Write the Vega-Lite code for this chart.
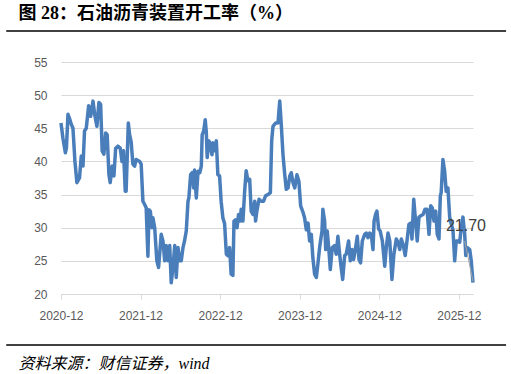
{
  "$schema": "https://vega.github.io/schema/vega-lite/v6.json",
  "padding": {"left": 5, "right": 5, "top": 4, "bottom": 2},
  "spacing": 14,
  "center": true,
  "background": "#ffffff",
  "config": {"font": "Liberation Sans"},
  "vconcat": [
    {
      "width": 534,
      "height": 10,
      "view": {"fill": "#ffffff", "stroke": "#ffffff"},
      "title": {"text": "图 28：石油沥青装置开工率（%）", "anchor": "start", "dx": 13, "offset": 7, "font": "Liberation Serif, Noto Sans CJK SC", "fontSize": 18, "fontWeight": "bold", "color": "#000000"},
      "data": {"values": [{"x": 0, "x2": 0.936, "y": 1}]},
      "mark": {"type": "rule", "color": "#000000", "strokeWidth": 1.5},
      "encoding": {
        "x": {"field": "x", "type": "quantitative", "scale": {"domain": [0, 1]}, "axis": null},
        "x2": {"field": "x2"},
        "y": {"field": "y", "type": "quantitative", "scale": {"domain": [0, 1]}, "axis": null}
      }
    },
    {
      "width": 412,
      "height": 232,
      "view": {"stroke": null},
      "encoding": {
        "x": {
          "field": "d", "type": "temporal",
          "scale": {"domain": ["2020-12-01", "2026-02-04"], "nice": false},
          "axis": {
            "values": [{"year": 2020, "month": 12, "date": 1}, {"year": 2021, "month": 12, "date": 1}, {"year": 2022, "month": 12, "date": 1}, {"year": 2023, "month": 12, "date": 1}, {"year": 2024, "month": 12, "date": 1}, {"year": 2025, "month": 12, "date": 1}],
            "format": "%Y-%m", "title": null, "grid": false,
            "domainColor": "#d9d9d9", "domainWidth": 1,
            "tickColor": "#d9d9d9", "tickSize": 5, "tickWidth": 1,
            "labelFont": "Liberation Sans", "labelFontSize": 12, "labelColor": "#595959", "labelPadding": 11, "labelFlush": false
          }
        },
        "y": {
          "field": "v", "type": "quantitative",
          "scale": {"domain": [20, 55], "nice": false, "zero": false},
          "axis": {
            "values": [20, 25, 30, 35, 40, 45, 50, 55],
            "labelOverlap": false,
            "title": "%", "titleColor": "rgba(0,0,0,0)", "titleFontSize": 10, "titlePadding": 16,
            "grid": true, "gridColor": "#d9d9d9", "gridWidth": 1,
            "domain": false, "ticks": false, "tickSize": 0,
            "labelFont": "Liberation Sans", "labelFontSize": 12, "labelColor": "#595959", "labelPadding": 14
          }
        }
      },
      "layer": [
        {
          "data": {"values": [
{"d":"2020-12-01","v":45.8},{"d":"2020-12-10","v":43.5},{"d":"2020-12-21","v":41.3},{"d":"2020-12-26","v":42},{"d":"2021-01-02","v":47.1},{"d":"2021-01-09","v":46.5},{"d":"2021-01-17","v":45.6},{"d":"2021-01-25","v":45},{"d":"2021-02-03","v":40},{"d":"2021-02-12","v":36.8},{"d":"2021-02-19","v":37.2},{"d":"2021-02-24","v":37.5},{"d":"2021-03-04","v":40.8},{"d":"2021-03-12","v":39.3},{"d":"2021-03-19","v":44.6},{"d":"2021-03-27","v":45},{"d":"2021-04-07","v":48.4},{"d":"2021-04-16","v":46.8},{"d":"2021-04-27","v":49.1},{"d":"2021-05-05","v":47},{"d":"2021-05-15","v":45.3},{"d":"2021-05-24","v":48.9},{"d":"2021-06-01","v":48.6},{"d":"2021-06-08","v":41.6},{"d":"2021-06-16","v":41.1},{"d":"2021-06-24","v":44.3},{"d":"2021-07-01","v":44},{"d":"2021-07-09","v":38},{"d":"2021-07-15","v":36.8},{"d":"2021-07-24","v":39.3},{"d":"2021-08-01","v":37.8},{"d":"2021-08-09","v":42},{"d":"2021-08-19","v":42.3},{"d":"2021-08-30","v":42},{"d":"2021-09-07","v":40},{"d":"2021-09-14","v":41.6},{"d":"2021-09-22","v":35.5},{"d":"2021-09-26","v":35.5},{"d":"2021-10-06","v":45.8},{"d":"2021-10-12","v":44},{"d":"2021-10-19","v":43},{"d":"2021-10-27","v":39.6},{"d":"2021-11-04","v":39.3},{"d":"2021-11-11","v":40.3},{"d":"2021-11-27","v":40},{"d":"2021-12-04","v":39.6},{"d":"2021-12-12","v":34},{"d":"2021-12-20","v":33.5},{"d":"2021-12-27","v":33},{"d":"2022-01-04","v":25.7},{"d":"2022-01-09","v":32.7},{"d":"2022-01-15","v":32.5},{"d":"2022-01-23","v":30},{"d":"2022-01-27","v":31.5},{"d":"2022-02-04","v":30},{"d":"2022-02-14","v":25},{"d":"2022-02-22","v":24},{"d":"2022-03-06","v":29},{"d":"2022-03-14","v":28},{"d":"2022-03-22","v":25},{"d":"2022-03-29","v":27.3},{"d":"2022-04-06","v":25},{"d":"2022-04-14","v":27.3},{"d":"2022-04-21","v":21.7},{"d":"2022-04-29","v":24},{"d":"2022-05-07","v":27.3},{"d":"2022-05-14","v":22.5},{"d":"2022-05-22","v":27},{"d":"2022-05-30","v":25},{"d":"2022-06-06","v":25},{"d":"2022-06-14","v":27},{"d":"2022-06-21","v":28},{"d":"2022-06-29","v":29.5},{"d":"2022-07-07","v":34},{"d":"2022-07-11","v":34.5},{"d":"2022-07-19","v":38},{"d":"2022-07-26","v":38.3},{"d":"2022-08-02","v":36},{"d":"2022-08-06","v":38.7},{"d":"2022-08-14","v":34.5},{"d":"2022-08-22","v":38.5},{"d":"2022-08-30","v":38.3},{"d":"2022-09-06","v":39.3},{"d":"2022-09-10","v":44},{"d":"2022-09-17","v":44.6},{"d":"2022-09-24","v":46.3},{"d":"2022-09-29","v":44.4},{"d":"2022-10-03","v":40.6},{"d":"2022-10-11","v":43.1},{"d":"2022-10-17","v":42.6},{"d":"2022-10-25","v":41},{"d":"2022-10-29","v":42.8},{"d":"2022-11-06","v":41.6},{"d":"2022-11-14","v":43.1},{"d":"2022-11-21","v":38},{"d":"2022-11-29","v":37.8},{"d":"2022-12-06","v":34},{"d":"2022-12-14","v":31.5},{"d":"2022-12-22","v":30.6},{"d":"2022-12-30","v":26},{"d":"2023-01-06","v":25.8},{"d":"2023-01-14","v":27},{"d":"2023-01-21","v":23},{"d":"2023-01-29","v":22.8},{"d":"2023-02-03","v":31},{"d":"2023-02-11","v":31.2},{"d":"2023-02-17","v":30},{"d":"2023-02-24","v":32},{"d":"2023-03-04","v":31},{"d":"2023-03-08","v":32.8},{"d":"2023-03-16","v":31},{"d":"2023-03-24","v":35.5},{"d":"2023-03-31","v":38.6},{"d":"2023-04-08","v":37.1},{"d":"2023-04-16","v":37.3},{"d":"2023-04-23","v":32.5},{"d":"2023-05-01","v":32},{"d":"2023-05-09","v":34},{"d":"2023-05-13","v":31},{"d":"2023-05-19","v":32.5},{"d":"2023-05-29","v":34.3},{"d":"2023-06-08","v":34},{"d":"2023-06-19","v":34},{"d":"2023-06-28","v":34.8},{"d":"2023-07-09","v":35},{"d":"2023-07-20","v":35.3},{"d":"2023-07-26","v":43.1},{"d":"2023-08-01","v":45.3},{"d":"2023-08-13","v":45.8},{"d":"2023-08-24","v":45.8},{"d":"2023-09-01","v":49.1},{"d":"2023-09-08","v":45.6},{"d":"2023-09-16","v":41},{"d":"2023-09-24","v":38},{"d":"2023-10-01","v":35.8},{"d":"2023-10-09","v":36},{"d":"2023-10-17","v":37.8},{"d":"2023-10-24","v":38.3},{"d":"2023-11-01","v":36.8},{"d":"2023-11-09","v":36},{"d":"2023-11-19","v":38},{"d":"2023-11-28","v":37},{"d":"2023-12-06","v":33.3},{"d":"2023-12-17","v":32.3},{"d":"2023-12-24","v":31.5},{"d":"2024-01-01","v":29.7},{"d":"2024-01-09","v":30.7},{"d":"2024-01-16","v":28},{"d":"2024-01-24","v":29},{"d":"2024-01-31","v":25.5},{"d":"2024-02-08","v":23},{"d":"2024-02-16","v":22.5},{"d":"2024-02-23","v":24.5},{"d":"2024-03-02","v":27},{"d":"2024-03-13","v":29.5},{"d":"2024-03-17","v":32.8},{"d":"2024-03-25","v":31},{"d":"2024-03-30","v":26.7},{"d":"2024-04-06","v":29.5},{"d":"2024-04-14","v":26.5},{"d":"2024-04-20","v":23.7},{"d":"2024-04-29","v":27},{"d":"2024-05-10","v":27.3},{"d":"2024-05-17","v":26},{"d":"2024-05-25","v":28.7},{"d":"2024-06-02","v":26},{"d":"2024-06-09","v":24},{"d":"2024-06-16","v":22.2},{"d":"2024-06-25","v":25.8},{"d":"2024-07-02","v":26},{"d":"2024-07-13","v":28},{"d":"2024-07-21","v":25},{"d":"2024-07-29","v":26.7},{"d":"2024-08-05","v":25.2},{"d":"2024-08-13","v":26.7},{"d":"2024-08-22","v":28.7},{"d":"2024-08-30","v":25.2},{"d":"2024-09-06","v":24.7},{"d":"2024-09-14","v":28},{"d":"2024-09-25","v":29},{"d":"2024-10-02","v":29.2},{"d":"2024-10-10","v":28.5},{"d":"2024-10-18","v":29.2},{"d":"2024-10-25","v":29},{"d":"2024-11-02","v":26.7},{"d":"2024-11-07","v":31},{"d":"2024-11-14","v":32},{"d":"2024-11-20","v":32.5},{"d":"2024-11-28","v":29.8},{"d":"2024-12-05","v":29.5},{"d":"2024-12-15","v":28},{"d":"2024-12-26","v":24.2},{"d":"2025-01-02","v":27},{"d":"2025-01-10","v":29.2},{"d":"2025-01-18","v":28},{"d":"2025-01-28","v":22.2},{"d":"2025-02-06","v":26},{"d":"2025-02-17","v":28.3},{"d":"2025-02-25","v":27.8},{"d":"2025-03-05","v":26.7},{"d":"2025-03-12","v":28.3},{"d":"2025-03-20","v":27.5},{"d":"2025-03-30","v":25.8},{"d":"2025-04-07","v":28},{"d":"2025-04-16","v":30.5},{"d":"2025-04-24","v":30.7},{"d":"2025-04-30","v":28.3},{"d":"2025-05-08","v":34.3},{"d":"2025-05-15","v":31.6},{"d":"2025-05-24","v":28},{"d":"2025-06-01","v":31.6},{"d":"2025-06-09","v":31.8},{"d":"2025-06-20","v":32},{"d":"2025-06-29","v":32.8},{"d":"2025-07-08","v":32.8},{"d":"2025-07-17","v":29},{"d":"2025-07-25","v":33.3},{"d":"2025-08-01","v":33},{"d":"2025-08-09","v":31},{"d":"2025-08-17","v":32.5},{"d":"2025-08-24","v":29},{"d":"2025-09-01","v":28.3},{"d":"2025-09-07","v":34.8},{"d":"2025-09-11","v":35.3},{"d":"2025-09-19","v":40.3},{"d":"2025-09-27","v":38.5},{"d":"2025-10-04","v":35.5},{"d":"2025-10-12","v":36},{"d":"2025-10-20","v":31.6},{"d":"2025-10-27","v":30.6},{"d":"2025-11-04","v":29.7},{"d":"2025-11-12","v":25},{"d":"2025-11-19","v":28},{"d":"2025-11-27","v":28},{"d":"2025-12-05","v":27.8},{"d":"2025-12-12","v":30},{"d":"2025-12-20","v":31.6},{"d":"2025-12-28","v":29},{"d":"2026-01-02","v":25.8},{"d":"2026-01-09","v":27},{"d":"2026-01-20","v":26.7},{"d":"2026-01-27","v":25},{"d":"2026-02-04","v":21.7}
          ]},
          "mark": {"type": "line", "color": "#4a7ebb", "strokeWidth": 3.5, "strokeJoin": "round", "clip": false}
        },
        {
          "data": {"values": [{"d": "2025-12-28", "v": 28.0, "d2": "2026-02-04", "v2": 21.9}]},
          "mark": {"type": "rule", "color": "#a6a6a6", "strokeWidth": 1, "clip": false},
          "encoding": {
            "x2": {"field": "d2"},
            "y2": {"field": "v2"}
          }
        },
        {
          "data": {"values": [{"d": "2025-10-03", "v": 30.2, "label": "21.70"}]},
          "mark": {"type": "text", "align": "left", "baseline": "middle", "font": "Liberation Sans", "fontSize": 16, "color": "#404040", "clip": false},
          "encoding": {
            "text": {"field": "label"}
          }
        }
      ]
    },
    {
      "width": 534,
      "height": 9,
      "view": {"fill": "#ffffff", "stroke": "#ffffff"},
      "title": {"text": "资料来源：财信证券，wind", "orient": "bottom", "anchor": "start", "dx": 13, "offset": 10, "font": "Liberation Serif, Noto Sans CJK SC", "fontSize": 16, "fontStyle": "italic", "fontWeight": "normal", "color": "#000000"},
      "data": {"values": [{"x": 0, "x2": 0.936, "y": 0}]},
      "mark": {"type": "rule", "color": "#000000", "strokeWidth": 1.5},
      "encoding": {
        "x": {"field": "x", "type": "quantitative", "scale": {"domain": [0, 1]}, "axis": null},
        "x2": {"field": "x2"},
        "y": {"field": "y", "type": "quantitative", "scale": {"domain": [0, 1]}, "axis": null}
      }
    }
  ]
}
